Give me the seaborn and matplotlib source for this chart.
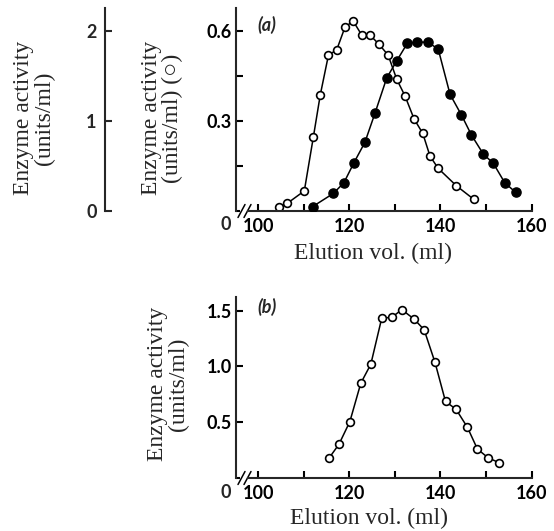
import matplotlib
matplotlib.use("Agg")
import matplotlib.pyplot as plt
import seaborn as sns
import numpy as np

# ---- Data ----------------------------------------------------------------
# (a) open circles: activity on the inner axis (units/ml)
a_open_vol = [104.5, 106.4, 110.1, 112.1, 113.6, 115.4, 117.2, 119.0, 120.8,
              122.7, 124.5, 126.5, 128.5, 130.4, 132.2, 134.2, 136.1, 137.7,
              139.5, 143.5, 147.3]
a_open_act = [0.014, 0.026, 0.067, 0.248, 0.387, 0.520, 0.537, 0.612, 0.634,
              0.587, 0.587, 0.556, 0.520, 0.439, 0.384, 0.307, 0.259, 0.183,
              0.142, 0.084, 0.039]

# (a) filled circles: activity on the outer axis (units/ml)
a_fill_vol = [111.9, 116.5, 118.8, 121.0, 123.4, 125.6, 128.2, 130.4, 132.7,
              134.9, 137.3, 139.5, 142.1, 144.6, 146.8, 149.4, 151.6, 154.1,
              156.5]
a_fill_act = [0.048, 0.196, 0.315, 0.537, 0.763, 1.085, 1.480, 1.670, 1.863,
              1.880, 1.874, 1.800, 1.296, 1.067, 0.844, 0.633, 0.530, 0.315,
              0.207]

# (b) open circles
b_vol = [115.5, 117.7, 120.1, 122.5, 124.7, 127.1, 129.3, 131.5, 134.2,
         136.4, 138.8, 141.1, 143.4, 145.9, 148.1, 150.4, 152.8]
b_act = [0.177, 0.302, 0.506, 0.850, 1.020, 1.434, 1.440, 1.510, 1.425,
         1.330, 1.036, 0.686, 0.617, 0.455, 0.260, 0.183, 0.138]

x_ticks = [100, 110, 120, 130, 140, 150, 160]
x_ticklabels = ["100", "", "120", "", "140", "", "160"]
a_yticks = [0.15, 0.3, 0.45, 0.6]
a_yticklabels = ["", "0.3", "", "0.6"]
outer_yticks = [0, 1, 2]
outer_yticklabels = ["0", "1", "2"]
b_yticks = [0.5, 1.0, 1.5]
b_yticklabels = ["0.5", "1.0", "1.5"]

# ---- Style ---------------------------------------------------------------
sns.set_style("ticks")
SERIF = ["Liberation Serif", "DejaVu Serif"]
TICKFONT = "Lato"
plt.rcParams["font.family"] = SERIF

W, H = 554, 531
fig = plt.figure(figsize=(W / 100, H / 100), dpi=100)
fig.patch.set_facecolor("white")

XLIM = (95.1, 160.2)
AX_L, AX_R = 236, 532.5


def frame(top_px, bottom_px):
    return [AX_L / W, 1 - bottom_px / H, (AX_R - AX_L) / W, (bottom_px - top_px) / H]


LW_AX = 1.5
LW_LINE = 1.1
TICK_FS = 13
LABEL_FS = 17


def style_axis(ax, yticks, yticklabels, ylim):
    ax.set_xlim(*XLIM)
    ax.set_ylim(*ylim)
    ax.set_facecolor("none")
    for s in ("top", "right"):
        ax.spines[s].set_visible(False)
    for s in ("left", "bottom"):
        ax.spines[s].set_linewidth(LW_AX)
    ax.set_xticks(x_ticks)
    ax.set_xticklabels(x_ticklabels)
    ax.set_yticks(yticks)
    ax.set_yticklabels(yticklabels)
    ax.tick_params(axis="both", direction="in", length=5, width=LW_AX,
                   labelsize=TICK_FS, colors="black")
    ax.tick_params(axis="x", pad=5)
    ax.tick_params(axis="y", pad=3)
    for lab in ax.get_xticklabels() + ax.get_yticklabels():
        lab.set_fontfamily(TICKFONT)
        lab.set_fontweight("bold")
    # bottom spine starts after the axis break
    ax.spines["bottom"].set_bounds(97.7, XLIM[1])
    # short stub from the origin to the break and the two break slashes
    bb = ax.get_position()
    wpx = bb.width * W
    hpx = bb.height * H
    ax.plot([0, 4 / wpx], [0, 0], transform=ax.transAxes, color="black",
            lw=LW_AX, clip_on=False, solid_capstyle="butt")
    for cx in (5.5, 11.5):
        ax.plot([(cx - 3.5) / wpx, (cx + 3.5) / wpx], [-6.5 / hpx, 6.5 / hpx],
                transform=ax.transAxes, color="black", lw=1.1, clip_on=False)
    # "0" at the origin, level with the x tick labels
    ax.text(-10 / wpx, -14 / hpx, "0", transform=ax.transAxes, ha="center",
            va="center", fontsize=TICK_FS, fontweight="bold",
            fontfamily=TICKFONT)


marker_open = dict(marker="o", markersize=5.6, markerfacecolor="white",
                   markeredgecolor="black", markeredgewidth=1.2)
marker_fill = dict(marker="o", markersize=6.6, markerfacecolor="black",
                   markeredgecolor="black", markeredgewidth=1.0)

# ---- Panel (a) -----------------------------------------------------------
ax_a = fig.add_axes(frame(8, 211))
A_TOP = 0.677
style_axis(ax_a, a_yticks, a_yticklabels, (0, A_TOP))
sns.lineplot(x=a_open_vol, y=a_open_act, ax=ax_a, color="black", lw=LW_LINE,
             sort=False, estimator=None, **marker_open)

# outer scale for the filled circles (1 unit = 0.3 inner units)
ax_o = ax_a.twinx()
ax_o.set_xlim(*XLIM)
ax_o.set_ylim(0, A_TOP / 0.3)
ax_o.set_facecolor("none")
for s in ("top", "right", "bottom"):
    ax_o.spines[s].set_visible(False)
ax_o.spines["left"].set_visible(True)
ax_o.spines["left"].set_linewidth(LW_AX)
ax_o.spines["left"].set_position(("axes", (105 - AX_L) / (AX_R - AX_L)))
ax_o.yaxis.set_ticks_position("left")
ax_o.yaxis.set_label_position("left")
ax_o.set_yticks(outer_yticks)
ax_o.set_yticklabels(outer_yticklabels)
ax_o.tick_params(axis="y", direction="in", length=5, width=LW_AX,
                 labelsize=TICK_FS, pad=6)
for lab in ax_o.get_yticklabels():
    lab.set_fontfamily(TICKFONT)
    lab.set_fontweight("bold")
sns.lineplot(x=a_fill_vol, y=a_fill_act, ax=ax_o, color="black", lw=LW_LINE,
             sort=False, estimator=None, **marker_fill)
ax_o.set_xlabel("")

ax_a.set_xlabel("Elution vol. (ml)", fontsize=LABEL_FS)
ax_a.xaxis.set_label_coords((373 - AX_L) / (AX_R - AX_L), (211 - 243) / 203)
ax_a.xaxis.label.set_va("top")

ax_a.set_ylabel("Enzyme activity\n(units/ml) (\u25cb)", fontsize=LABEL_FS,
                linespacing=1.05)
ax_a.yaxis.set_label_coords((162 - AX_L) / (AX_R - AX_L), (211 - 118) / 203)
ax_a.yaxis.label.set_va("center")

ax_o.set_ylabel("Enzyme activity\n(units/ml)", fontsize=LABEL_FS,
                linespacing=1.05)
ax_o.yaxis.set_label_coords((34 - AX_L) / (AX_R - AX_L), (211 - 118) / 203)
ax_o.yaxis.label.set_va("center")

ax_a.text((267 - AX_L) / (AX_R - AX_L), (211 - 25) / 203, "(a)",
          transform=ax_a.transAxes, ha="center", va="center", fontsize=TICK_FS,
          fontstyle="italic", fontweight="bold", fontfamily=TICKFONT)

# ---- Panel (b) -----------------------------------------------------------
ax_b = fig.add_axes(frame(297, 478))
style_axis(ax_b, b_yticks, b_yticklabels, (0, 1.623))
sns.lineplot(x=b_vol, y=b_act, ax=ax_b, color="black", lw=LW_LINE,
             sort=False, estimator=None, **marker_open)

ax_b.set_xlabel("Elution vol. (ml)", fontsize=LABEL_FS)
ax_b.xaxis.set_label_coords((369 - AX_L) / (AX_R - AX_L), (478 - 508) / 181)
ax_b.xaxis.label.set_va("top")

ax_b.set_ylabel("Enzyme activity\n(units/ml)", fontsize=LABEL_FS,
                linespacing=1.05)
ax_b.yaxis.set_label_coords((168 - AX_L) / (AX_R - AX_L), (478 - 384) / 181)
ax_b.yaxis.label.set_va("center")

ax_b.text((267 - AX_L) / (AX_R - AX_L), (478 - 307) / 181, "(b)",
          transform=ax_b.transAxes, ha="center", va="center", fontsize=TICK_FS,
          fontstyle="italic", fontweight="bold", fontfamily=TICKFONT)

fig.savefig("out.png", dpi=100, facecolor="white")
